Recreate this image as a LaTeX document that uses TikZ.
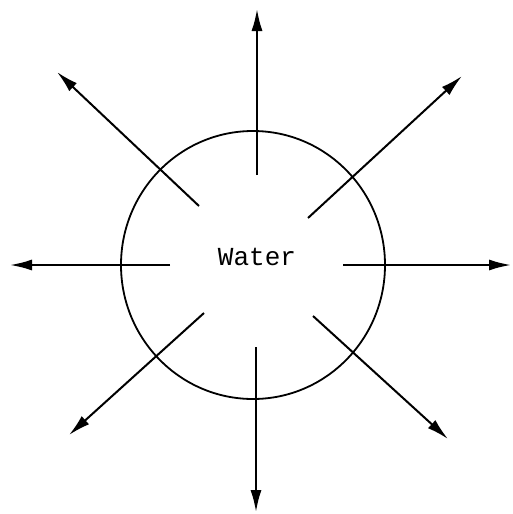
\documentclass[tikz,border=0pt]{standalone}
\usepackage{fontspec}
\newfontfamily\typefont{Liberation Mono}
\usetikzlibrary{arrows.meta}
\begin{document}
\begin{tikzpicture}[x=1pt,y=-1pt,
  ray/.style={line width=2pt,-{Latex[length=22pt,width=11pt]}},
  rim/.style={line width=1.8pt}]
\useasboundingbox (0,0) rectangle (513,514);
\draw[rim] (253,265) ellipse [x radius=132, y radius=134];
\node[font=\typefont\fontsize{26}{29}\selectfont] (w) at (257,257) {Water};
\coordinate (n0) at (257,175); \coordinate (n1) at (257,9);
\coordinate (s0) at (256,347); \coordinate (s1) at (256,512);
\coordinate (l0) at (170,265); \coordinate (l1) at (10,265);
\coordinate (r0) at (343,265); \coordinate (r1) at (511,265);
\coordinate (nw0) at (199,206); \coordinate (nw1) at (57,72);
\coordinate (ne0) at (308,218); \coordinate (ne1) at (462,76);
\coordinate (sw0) at (204,313); \coordinate (sw1) at (69,435);
\coordinate (se0) at (313,316); \coordinate (se1) at (448,439);
\draw[ray] (n0) -- (n1);
\draw[ray] (s0) -- (s1);
\draw[ray] (l0) -- (l1);
\draw[ray] (r0) -- (r1);
\draw[ray] (nw0) -- (nw1);
\draw[ray] (ne0) -- (ne1);
\draw[ray] (sw0) -- (sw1);
\draw[ray] (se0) -- (se1);
\end{tikzpicture}
\end{document}
